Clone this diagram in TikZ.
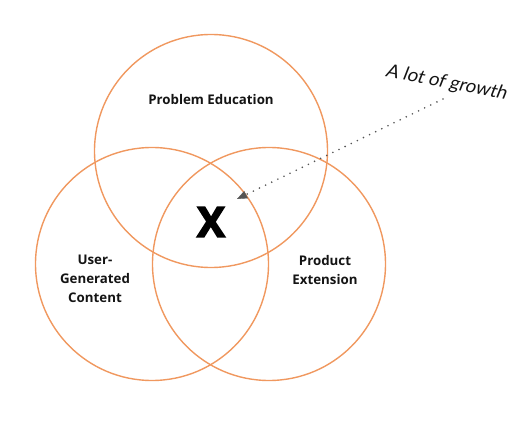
\documentclass[tikz,border=0pt]{standalone}
\usepackage{fontspec}
\setmainfont{Open Sans}
\newfontfamily\growthfont[FakeSlant=0.18]{Lato}
\newfontfamily\xfont[BoldFeatures={FakeBold=3.5}]{Open Sans}
\usetikzlibrary{arrows.meta}
\definecolor{vennorange}{RGB}{240,152,95}
\definecolor{dotgray}{RGB}{85,85,85}
\definecolor{inkblack}{RGB}{20,20,20}

\begin{document}
\begin{tikzpicture}[x=1pt, y=-1pt]
    % Styles for the three sets and their labels
    \tikzset{
        venn/.style={circle, draw=vennorange, line width=1.4pt, minimum size=233pt, inner sep=0pt},
        setlbl/.style={font=\bfseries\fontsize{13.3}{19}\selectfont, text=inkblack, align=center, inner sep=0pt},
        bigx/.style={font=\xfont\bfseries\fontsize{42}{42}\selectfont, text=black, inner sep=0pt},
        note/.style={font=\growthfont\fontsize{18.5}{20}\selectfont, text=inkblack, inner sep=0pt},
        pointer/.style={draw=dotgray, line width=1.8pt, line cap=round, dash pattern=on 0pt off 6.8pt,
            -{Triangle[length=10pt, width=8pt, fill=dotgray, line width=0.4pt, line cap=butt]}}
    }
    \useasboundingbox (0,0) rectangle (525,422);

    % The three circles
    \node[venn] (edu) at (211,151) {};
    \node[venn] (ugc) at (152,264) {};
    \node[venn] (ext) at (269,264) {};

    % Set labels
    \node[setlbl] (edulbl) at (211,100) {Problem Education};
    \node[setlbl] (ugclbl) at (95,279) {User-\\Generated\\Content};
    \node[setlbl] (extlbl) at (325,270) {Product\\Extension};
    \node[bigx] (centre) at (211,222) {X};

    % Note and its dotted pointer
    \node[note, rotate=-11] (growth) at (446,83) {A lot of growth};
    \coordinate (tail) at (443,99);
    \coordinate (tip) at (237,199);
    \draw[pointer] (tail) -- (tip);
\end{tikzpicture}
\end{document}
